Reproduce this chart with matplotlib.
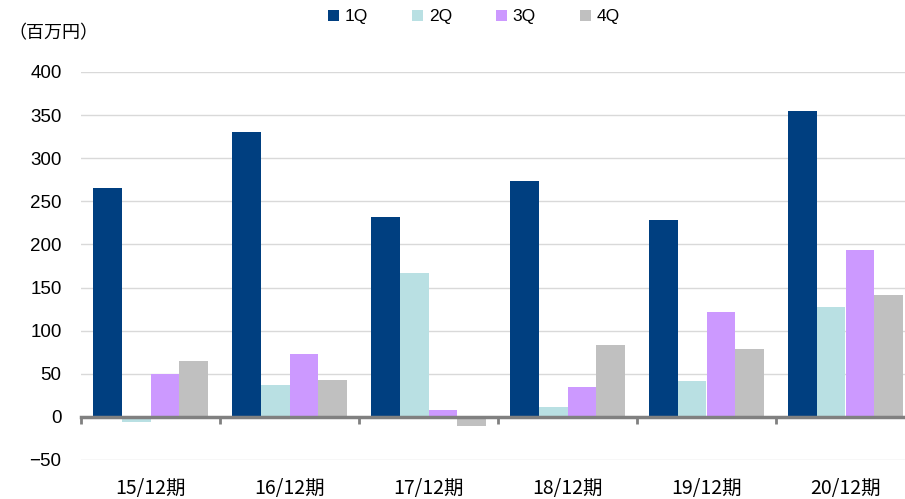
import numpy as np
import matplotlib
matplotlib.use('Agg')
import matplotlib.pyplot as plt
import matplotlib.transforms as mtransforms

plt.rcParams['font.family'] = ['Liberation Sans', 'Noto Sans CJK JP', 'DejaVu Sans']

# データ（百万円）
periods = ['15/12期', '16/12期', '17/12期', '18/12期', '19/12期', '20/12期']
quarters = ['1Q', '2Q', '3Q', '4Q']
q1 = [265, 330, 232, 274, 228, 355]
q2 = [-6, 37, 167, 11, 42, 127]
q3 = [50, 73, 8, 35, 122, 194]
q4 = [65, 43, -10, 83, 79, 141]
colors = ['#003f80', '#b9e0e3', '#cc99ff', '#c0c0c0']

fig = plt.figure(figsize=(9.05, 4.99), dpi=100)
ax = fig.add_axes([81 / 905, 39 / 499, 834 / 905, 388 / 499])

x = np.arange(len(periods)) + 0.5
w = 0.2086
for k, vals in enumerate([q1, q2, q3, q4]):
    ax.bar(x + (k - 1.5) * w, vals, width=w, color=colors[k], label=quarters[k], zorder=3)

ax.set_xlim(0, 6)
ax.set_ylim(-50, 400)
ax.set_yticks(range(-50, 401, 50))
ax.yaxis.grid(True, color='#d9d9d9', linewidth=1, zorder=0)
ax.tick_params(axis='y', length=0, pad=14, labelsize=13.5)

# 軸線（0の位置）
for s in ['top', 'right', 'left']:
    ax.spines[s].set_visible(False)
ax.spines['bottom'].set_position(('data', 0))
ax.spines['bottom'].set_color('#808080')
ax.spines['bottom'].set_linewidth(2.5)
ax.spines['bottom'].set_zorder(4)
ax.set_xticks(range(0, 7))
ax.set_xticklabels([])
ax.tick_params(axis='x', direction='out', length=5, width=2, color='#808080')

# カテゴリラベル
trans = mtransforms.blended_transform_factory(ax.transData, ax.transAxes)
for xi, p in zip(x, periods):
    ax.text(xi, -0.073, p, transform=trans, ha='center', va='center', fontsize=14,
            family=['Noto Sans CJK JP', 'DejaVu Sans'])

fig.text(8 / 905, 1 - 33 / 499, '（百万円）', ha='left', va='center', fontsize=13,
         family=['Noto Sans CJK JP', 'DejaVu Sans'])

ax.legend(loc='center', bbox_to_anchor=(474 / 905, 1 - 17 / 499), bbox_transform=fig.transFigure,
          ncol=4, frameon=False, fontsize=12.5, handlelength=0.6, handleheight=0.6,
          handletextpad=0.35, columnspacing=2.55)

fig.savefig('out.png', dpi=100)
